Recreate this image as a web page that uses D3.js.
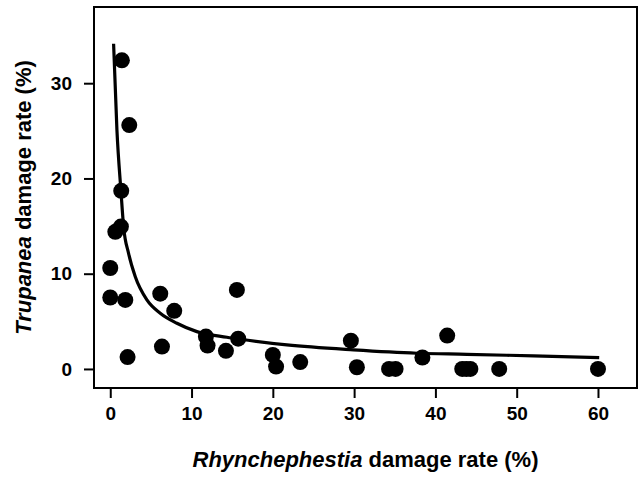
<!DOCTYPE html>
<html>
<head>
<meta charset="utf-8">
<script src="https://cdn.jsdelivr.net/npm/d3@7/dist/d3.min.js"></script>
<style>
  html, body { margin: 0; padding: 0; background: #fff; }
  svg { display: block; }
  text { font-family: "Liberation Sans", Arial, sans-serif; font-weight: bold; fill: #000; }
</style>
</head>
<body>
<script>
// Observed data points (Rhynchephestia %, Trupanea %)
const rhynchephestia = [0, 0, 1.85, 2.13, 0.62, 1.31, 1.35, 1.43, 2.34, 6.15, 7.87, 6.36, 11.77, 11.97, 14.23, 15.58, 15.74, 20.0, 20.4, 23.37, 29.6, 30.34, 34.3, 35.1, 38.4, 41.45, 43.3, 43.8, 44.3, 47.85, 60.0];
const trupanea = [10.6, 7.5, 7.25, 1.25, 14.4, 14.95, 18.7, 32.4, 25.6, 7.9, 6.1, 2.35, 3.4, 2.45, 1.9, 8.3, 3.18, 1.47, 0.25, 0.72, 2.97, 0.18, 0.0, 0.0, 1.2, 3.5, 0, 0, 0, 0, 0];

// Fitted curve
const fitX = [0.41, 0.82, 1.32, 1.64, 2.25, 3.08, 4.51, 6.15, 8.2, 10.66, 14.35, 16.0, 21.73, 29.93, 37.72, 43.87, 52.07, 60.15];
const fitY = [34.14, 25.1, 18.62, 14.95, 12.15, 9.68, 7.25, 5.85, 4.8, 3.92, 3.33, 3.12, 2.52, 2.0, 1.65, 1.54, 1.37, 1.19];

const xTicks = [0, 10, 20, 30, 40, 50, 60];
const yTicks = [0, 10, 20, 30];

const W = 639, H = 477;
const svg = d3.select("body").append("svg").attr("width", W).attr("height", H);

const x = d3.scaleLinear().domain([-2, 64.8]).range([94, 637]);
const y = d3.scaleLinear().domain([-2, 38]).range([388, 7]);

// Frame
svg.append("rect")
  .attr("x", x.range()[0]).attr("y", y.range()[1])
  .attr("width", x.range()[1] - x.range()[0])
  .attr("height", y.range()[0] - y.range()[1])
  .attr("fill", "none").attr("stroke", "#000").attr("stroke-width", 2);

// Axes
const xAxis = svg.append("g")
  .attr("transform", `translate(0,${y.range()[0]})`)
  .call(d3.axisBottom(x).tickValues(xTicks).tickSize(10).tickPadding(9).tickFormat(d3.format("d")));
const yAxis = svg.append("g")
  .attr("transform", `translate(${x.range()[0]},0)`)
  .call(d3.axisLeft(y).tickValues(yTicks).tickSize(10).tickPadding(12).tickFormat(d3.format("d")));

[xAxis, yAxis].forEach(g => {
  g.select(".domain").remove();
  g.selectAll(".tick line").attr("stroke", "#000").attr("stroke-width", 2);
  g.selectAll(".tick text")
    .style("font-family", '"Liberation Sans", Arial, sans-serif')
    .style("font-weight", "bold")
    .style("font-size", "19px")
    .attr("fill", "#000");
});

// Fitted curve
const fitData = fitX.map((v, i) => [v, fitY[i]]);
svg.append("path")
  .datum(fitData)
  .attr("fill", "none")
  .attr("stroke", "#000")
  .attr("stroke-width", 3.2)
  .attr("d", d3.line().x(d => x(d[0])).y(d => y(d[1])).curve(d3.curveMonotoneX));

// Points
const pts = rhynchephestia.map((v, i) => [v, trupanea[i]]);
svg.append("g").selectAll("circle")
  .data(pts).enter().append("circle")
  .attr("cx", d => x(d[0])).attr("cy", d => y(d[1]))
  .attr("r", 8).attr("fill", "#000");

// Axis titles
const xt = svg.append("text")
  .attr("x", (x.range()[0] + x.range()[1]) / 2)
  .attr("y", 467)
  .attr("text-anchor", "middle")
  .style("font-size", "22px");
xt.append("tspan").style("font-style", "italic").text("Rhynchephestia");
xt.append("tspan").text(" damage rate (%)");

const yt = svg.append("text")
  .attr("transform", `translate(31,${(y.range()[0] + y.range()[1]) / 2}) rotate(-90)`)
  .attr("text-anchor", "middle")
  .style("font-size", "22px");
yt.append("tspan").style("font-style", "italic").text("Trupanea");
yt.append("tspan").text(" damage rate (%)");
</script>
</body>
</html>
